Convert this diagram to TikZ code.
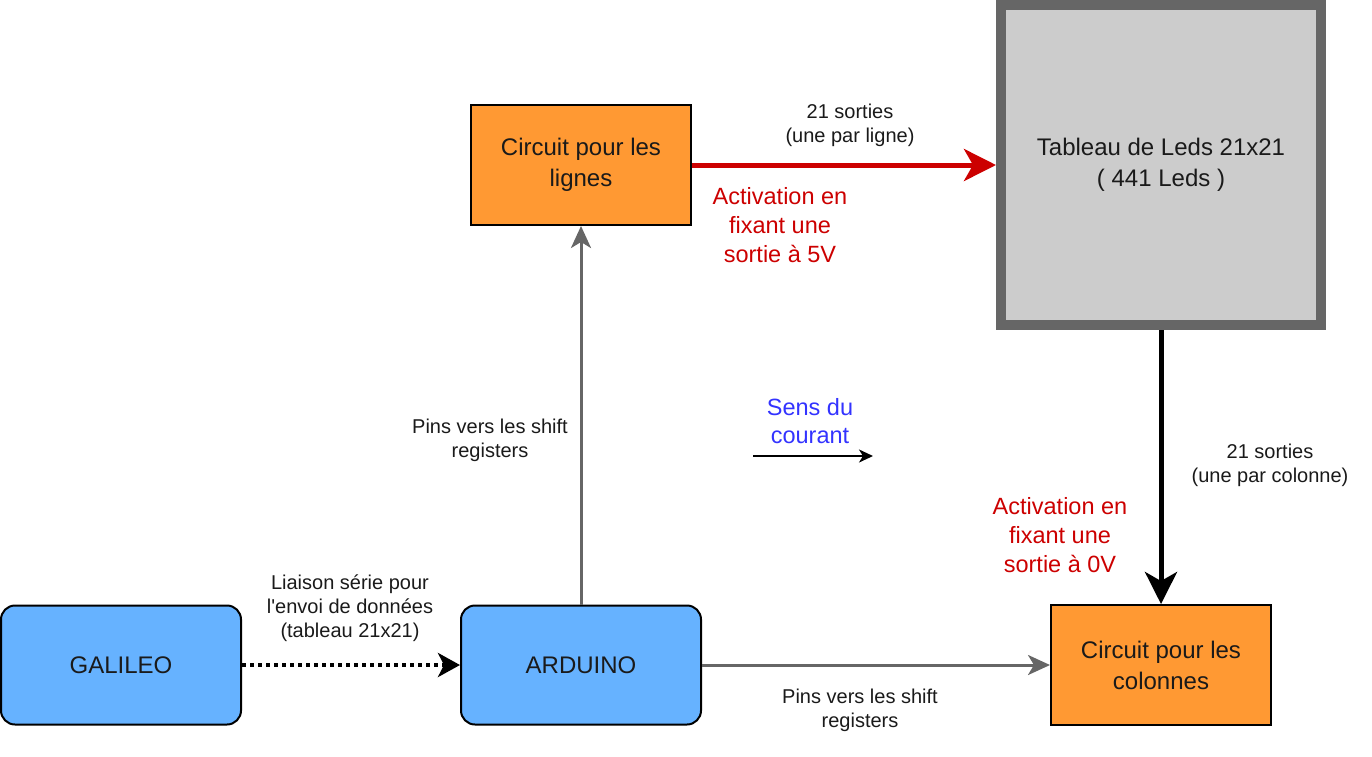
\documentclass[tikz,border=0pt]{standalone}
\usepackage{fontspec}
\setmainfont{Liberation Sans}
\usetikzlibrary{arrows.meta}
\definecolor{orangebox}{HTML}{FF9933}
\definecolor{bluebox}{HTML}{66B2FF}
\definecolor{graybox}{HTML}{CCCCCC}
\definecolor{grayline}{HTML}{666666}
\definecolor{redline}{HTML}{CC0000}
\definecolor{bluetext}{HTML}{3333FF}
\definecolor{boxtext}{HTML}{1A1A1A}
\tikzset{
  boxfont/.style={font=\fontsize{24}{31}\selectfont, text=boxtext, align=center},
  orangerect/.style={boxfont, draw=black, line width=2pt, fill=orangebox, minimum width=220pt, minimum height=120pt, inner sep=0pt},
  bluerect/.style={boxfont, draw=black, line width=2pt, fill=bluebox, rounded corners=14pt, minimum width=240pt, minimum height=119pt, inner sep=0pt},
  lbl/.style={font=\fontsize{20}{24}\selectfont, text=boxtext, align=center, inner sep=0pt},
  redlbl/.style={font=\fontsize{23.5}{29}\selectfont, text=redline, align=center, inner sep=0pt},
  bluelbl/.style={font=\fontsize{23.5}{28}\selectfont, text=bluetext, align=center, inner sep=0pt},
  grayarrow/.style={draw=grayline, line width=3pt, -{Stealth[length=22pt,width=20pt,inset=6pt]}},
}
\begin{document}
\begin{tikzpicture}[x=1pt,y=-1pt]
\useasboundingbox (0,0) rectangle (1372,756);
% nodes
\node[orangerect] (lignes) at (581,165) {Circuit pour les\\lignes};
\node[boxfont, draw=grayline, line width=10pt, fill=graybox, minimum width=320pt, minimum height=320pt, inner sep=0pt] (tableau) at (1161,165) {Tableau de Leds 21x21\\( 441 Leds )};
\node[orangerect] (colonnes) at (1161,665) {Circuit pour les\\colonnes};
\node[bluerect] (galileo) at (121,665) {GALILEO};
\node[bluerect] (arduino) at (581,665) {ARDUINO};
% labels
\node[lbl] (l1) at (850,125) {21 sorties\\(une par ligne)};
\node[redlbl] (r1) at (780,225) {Activation en\\fixant une\\sortie à 5V};
\node[lbl] (l2) at (490,440) {Pins vers les shift\\registers};
\node[bluelbl] (sens) at (810,421) {Sens du\\courant};
\node[lbl] (l3) at (1270,465) {21 sorties\\(une par colonne)};
\node[redlbl] (r2) at (1060,535) {Activation en\\fixant une\\sortie à 0V};
\node[lbl] (l4) at (350,608) {Liaison série pour\\l\textquotesingle envoi de données\\(tableau 21x21)};
\node[lbl] (l5) at (860,710) {Pins vers les shift\\registers};
\coordinate (s1) at (753,456);
\coordinate (s2) at (873,456);
% connectors
\draw[draw=redline, line width=5pt, -{Stealth[length=32pt,width=32pt,inset=9pt,fill=redline]}] (lignes.east) -- (tableau.west);
\draw[grayarrow] (arduino.north) -- (lignes.south);
\draw[grayarrow] (arduino.east) -- (colonnes.west);
\draw[draw=black, line width=5pt, -{Stealth[length=32pt,width=32pt,inset=9pt]}] (tableau.south) -- (colonnes.north);
\draw[draw=black, line width=4pt, dash pattern=on 4pt off 4pt, -{Stealth[length=22pt,width=24pt,inset=6pt]}] (galileo.east) -- (arduino.west);
\draw[draw=black, line width=2pt, -{Stealth[length=14pt,width=13pt,inset=4pt]}] (s1) -- (s2);
\end{tikzpicture}
\end{document}
